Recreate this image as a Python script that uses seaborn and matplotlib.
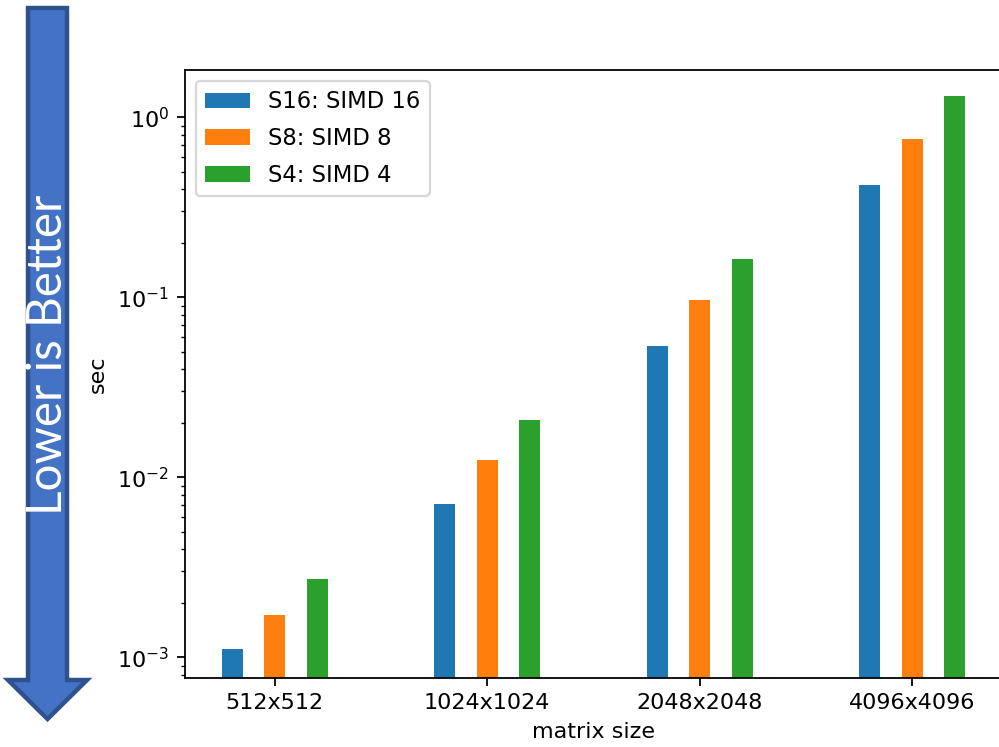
import matplotlib
matplotlib.use("Agg")
import matplotlib.pyplot as plt
from matplotlib.patches import Polygon
import seaborn as sns
import pandas as pd

# ---- data ----
sizes = ["512x512", "1024x1024", "2048x2048", "4096x4096"]
series = ["S16: SIMD 16", "S8: SIMD 8", "S4: SIMD 4"]
s16 = [0.00111, 0.00708, 0.0534, 0.422]
s8 = [0.00172, 0.01248, 0.0962, 0.760]
s4 = [0.00273, 0.0207, 0.163, 1.318]
colors = ["#1f77b4", "#ff7f0e", "#2ca02c"]

rows = []
for name, vals in zip(series, [s16, s8, s4]):
    for sz, v in zip(sizes, vals):
        rows.append({"matrix size": sz, "sec": v, "series": name})
df = pd.DataFrame(rows)

W, H, DPI = 999, 747, 160
fig = plt.figure(figsize=(W / DPI, H / DPI), dpi=DPI)

# axes placement (pixels from reference)
left, right, top, bottom = 184.5, 1003.5, 70.0, 677.7
ax = fig.add_axes([left / W, 1 - bottom / H, (right - left) / W, (bottom - top) / H])

sns.barplot(data=df, x="matrix size", y="sec", hue="series",
            hue_order=series, order=sizes, palette=colors, saturation=1,
            width=0.6, gap=0.5, errorbar=None, linewidth=0,
            log_scale=True, ax=ax)
ax.set_yscale("log")
ax.set_ylim(10 ** -3.113, 10 ** 0.263)
ax.set_xlim(-0.425, 3.43)
ax.set_xlabel("matrix size")
ax.set_ylabel("sec")
sns.move_legend(ax, "upper left", title=None, fontsize=10.2, labelspacing=0.6)

# ---- "Lower is Better" arrow ----
pts_px = [(28, 8), (67, 8), (67, 680), (87, 680), (47.5, 719), (8, 680), (28, 680)]
pts = [(x / W, 1 - y / H) for x, y in pts_px]
arrow = Polygon(pts, closed=True, transform=fig.transFigure,
                facecolor="#4472C4", edgecolor="#2F528F", linewidth=2.0,
                joinstyle="miter", zorder=5)
fig.patches.append(arrow)

txt = fig.text(48 / W, 1 - 355 / H, "Lower is Better", rotation=90,
               ha="center", va="center", color="white", fontsize=22,
               family=["Lato", "DejaVu Sans"], fontweight="normal", zorder=6)
fig.canvas.draw()
ext = txt.get_window_extent()
target = 320.0
txt.set_fontsize(22 * target / ext.height)

fig.savefig("out.png", dpi=DPI)
